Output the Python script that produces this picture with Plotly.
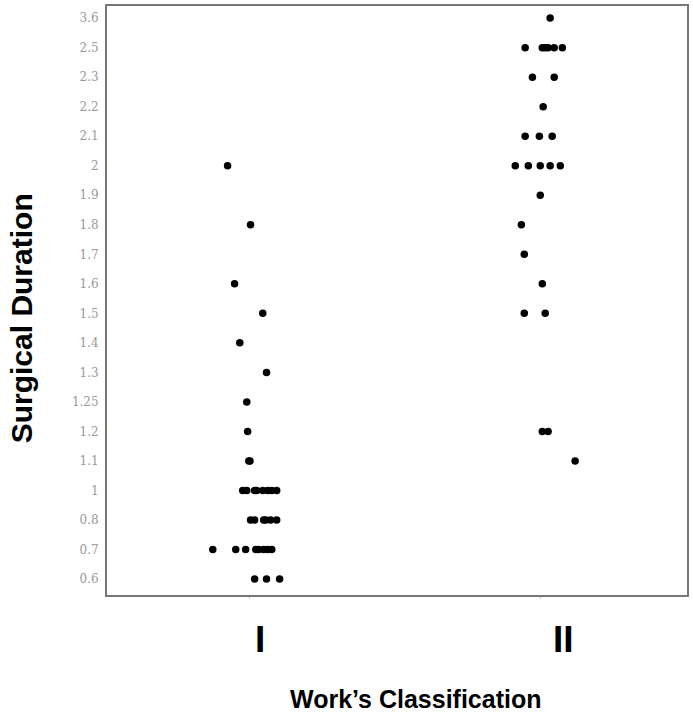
import plotly.graph_objects as go

# Category order of the y axis (bottom to top), as printed on the chart
duration_levels = ["0.6", "0.7", "0.8", "1", "1.1", "1.2", "1.25", "1.3", "1.4",
                   "1.5", "1.6", "1.7", "1.8", "1.9", "2", "2.1", "2.2", "2.3",
                   "2.5", "3.6"]

group_labels = ["I", "II"]

# Group I: surgical duration (category) and horizontal jittered position
group1_duration = ["2", "1.8", "1.6", "1.5", "1.4", "1.3", "1.25", "1.2", "1.1", "1.1",
                   "1", "1", "1", "1", "1", "1", "1", "1",
                   "0.8", "0.8", "0.8", "0.8", "0.8", "0.8",
                   "0.7", "0.7", "0.7", "0.7", "0.7", "0.7", "0.7", "0.7",
                   "0.6", "0.6", "0.6"]
group1_x = [-0.076, 0.003, -0.052, 0.045, -0.034, 0.058, -0.010, -0.007, -0.003, 0.001,
            -0.024, -0.010, 0.017, 0.024, 0.045, 0.062, 0.076, 0.093,
            0.003, 0.017, 0.048, 0.055, 0.072, 0.093,
            -0.127, -0.048, -0.014, 0.021, 0.031, 0.048, 0.062, 0.076,
            0.017, 0.058, 0.103]

# Group II
group2_duration = ["3.6",
                   "2.5", "2.5", "2.5", "2.5", "2.5", "2.5",
                   "2.3", "2.3", "2.2",
                   "2.1", "2.1", "2.1",
                   "2", "2", "2", "2", "2",
                   "1.9", "1.8", "1.7", "1.6", "1.5", "1.5",
                   "1.2", "1.2", "1.1"]
group2_x = [1.034,
            0.948, 1.007, 1.017, 1.027, 1.048, 1.076,
            0.973, 1.048, 1.010,
            0.948, 0.997, 1.041,
            0.914, 0.959, 1.000, 1.034, 1.069,
            1.000, 0.935, 0.945, 1.007, 0.945, 1.017,
            1.007, 1.027, 1.120]

fig = go.Figure()
for xs, ys, name in [(group1_x, group1_duration, group_labels[0]),
                     (group2_x, group2_duration, group_labels[1])]:
    fig.add_trace(go.Scatter(
        x=xs, y=ys, mode="markers", name=name,
        marker=dict(color="black", size=7.5),
        showlegend=False,
    ))

axis_line = dict(showline=True, mirror=True, linecolor="#777777", linewidth=2,
                 showgrid=False, zeroline=False)

fig.update_layout(
    width=693, height=714,
    margin=dict(l=107, r=6, t=4, b=119),
    paper_bgcolor="white", plot_bgcolor="white",
    xaxis=dict(range=[-0.491, 1.505], tickvals=[0, 1], ticktext=["", ""],
               ticks="outside", ticklen=2, tickcolor="#cccccc", **axis_line),
    yaxis=dict(type="category", categoryorder="array", categoryarray=duration_levels,
               range=[-0.54, 19.41], ticks="outside", ticklen=4,
               tickcolor="rgba(0,0,0,0)",
               tickfont=dict(family="DejaVu Serif", size=12, color="#999999"),
               **axis_line),
)

# Category labels below the axis (drawn slightly right of the tick marks as in the original)
for xpos, lab in [(0.034, group_labels[0]), (1.079, group_labels[1])]:
    fig.add_annotation(x=xpos, xref="x", y=-0.076, yref="paper", text=lab,
                       showarrow=False, yanchor="middle", xanchor="center",
                       font=dict(family="Liberation Sans", size=37, color="black",
                                 weight="bold"))

fig.add_annotation(x=0.532, xref="paper", y=-0.176, yref="paper",
                   text="Work’s Classification", showarrow=False,
                   xanchor="center", yanchor="middle",
                   font=dict(family="Liberation Sans", size=25, color="black",
                             weight="bold"))
fig.add_annotation(x=-0.148, xref="paper", y=0.470, yref="paper",
                   text="Surgical Duration", showarrow=False, textangle=-90,
                   xanchor="center", yanchor="middle",
                   font=dict(family="Liberation Sans", size=30, color="black",
                             weight="bold"))

fig.write_html("out.html", config={"displayModeBar": False},
               post_script="document.body.style.margin='0';document.body.style.overflow='hidden';")
